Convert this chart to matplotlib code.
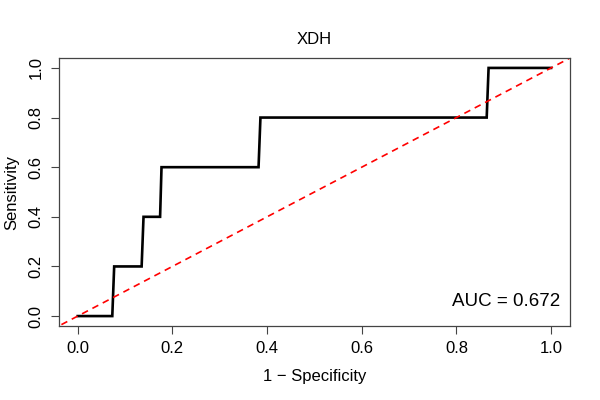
import matplotlib
matplotlib.use('Agg')
import matplotlib.pyplot as plt

# ROC curve points
fpr = [0.0, 0.073, 0.077, 0.135, 0.139, 0.174, 0.177, 0.382, 0.386, 0.864, 0.868, 1.0]
tpr = [0.0, 0.0, 0.2, 0.2, 0.4, 0.4, 0.6, 0.6, 0.8, 0.8, 1.0, 1.0]
ticks = [0.0, 0.2, 0.4, 0.6, 0.8, 1.0]
tick_labels = ['0.0', '0.2', '0.4', '0.6', '0.8', '1.0']
title = 'XDH'
auc_text = 'AUC = 0.672'

plt.rcParams['font.family'] = ['Liberation Sans', 'DejaVu Sans']

fig = plt.figure(figsize=(6, 4), dpi=100)
ax = fig.add_axes([0.098, 0.185, 0.852, 0.67])

ax.plot(fpr, tpr, color='black', lw=1.9, solid_joinstyle='miter')
ax.plot([-0.1, 1.1], [-0.1, 1.1], color='red', lw=1.2, ls=(0, (4, 3)))

ax.set_xlim(-0.04, 1.04)
ax.set_ylim(-0.04, 1.04)
ax.set_xticks(ticks)
ax.set_xticklabels(tick_labels, fontsize=12)
ax.set_yticks(ticks)
ax.set_yticklabels(tick_labels, fontsize=12, rotation=90, va='center')
ax.tick_params(direction='out', length=6, width=0.8, color='#444444', pad=5)

for s in ax.spines.values():
    s.set_color('#444444')
    s.set_linewidth(0.9)

ax.set_title(title, fontsize=12, pad=10)
ax.set_xlabel('1 \u2212 Specificity', fontsize=12, labelpad=9)
ax.set_ylabel('Sensitivity', fontsize=12, labelpad=7)

ax.text(1.02, 0.06, auc_text, ha='right', va='center', fontsize=13.5)

fig.savefig('out.png', dpi=100)
